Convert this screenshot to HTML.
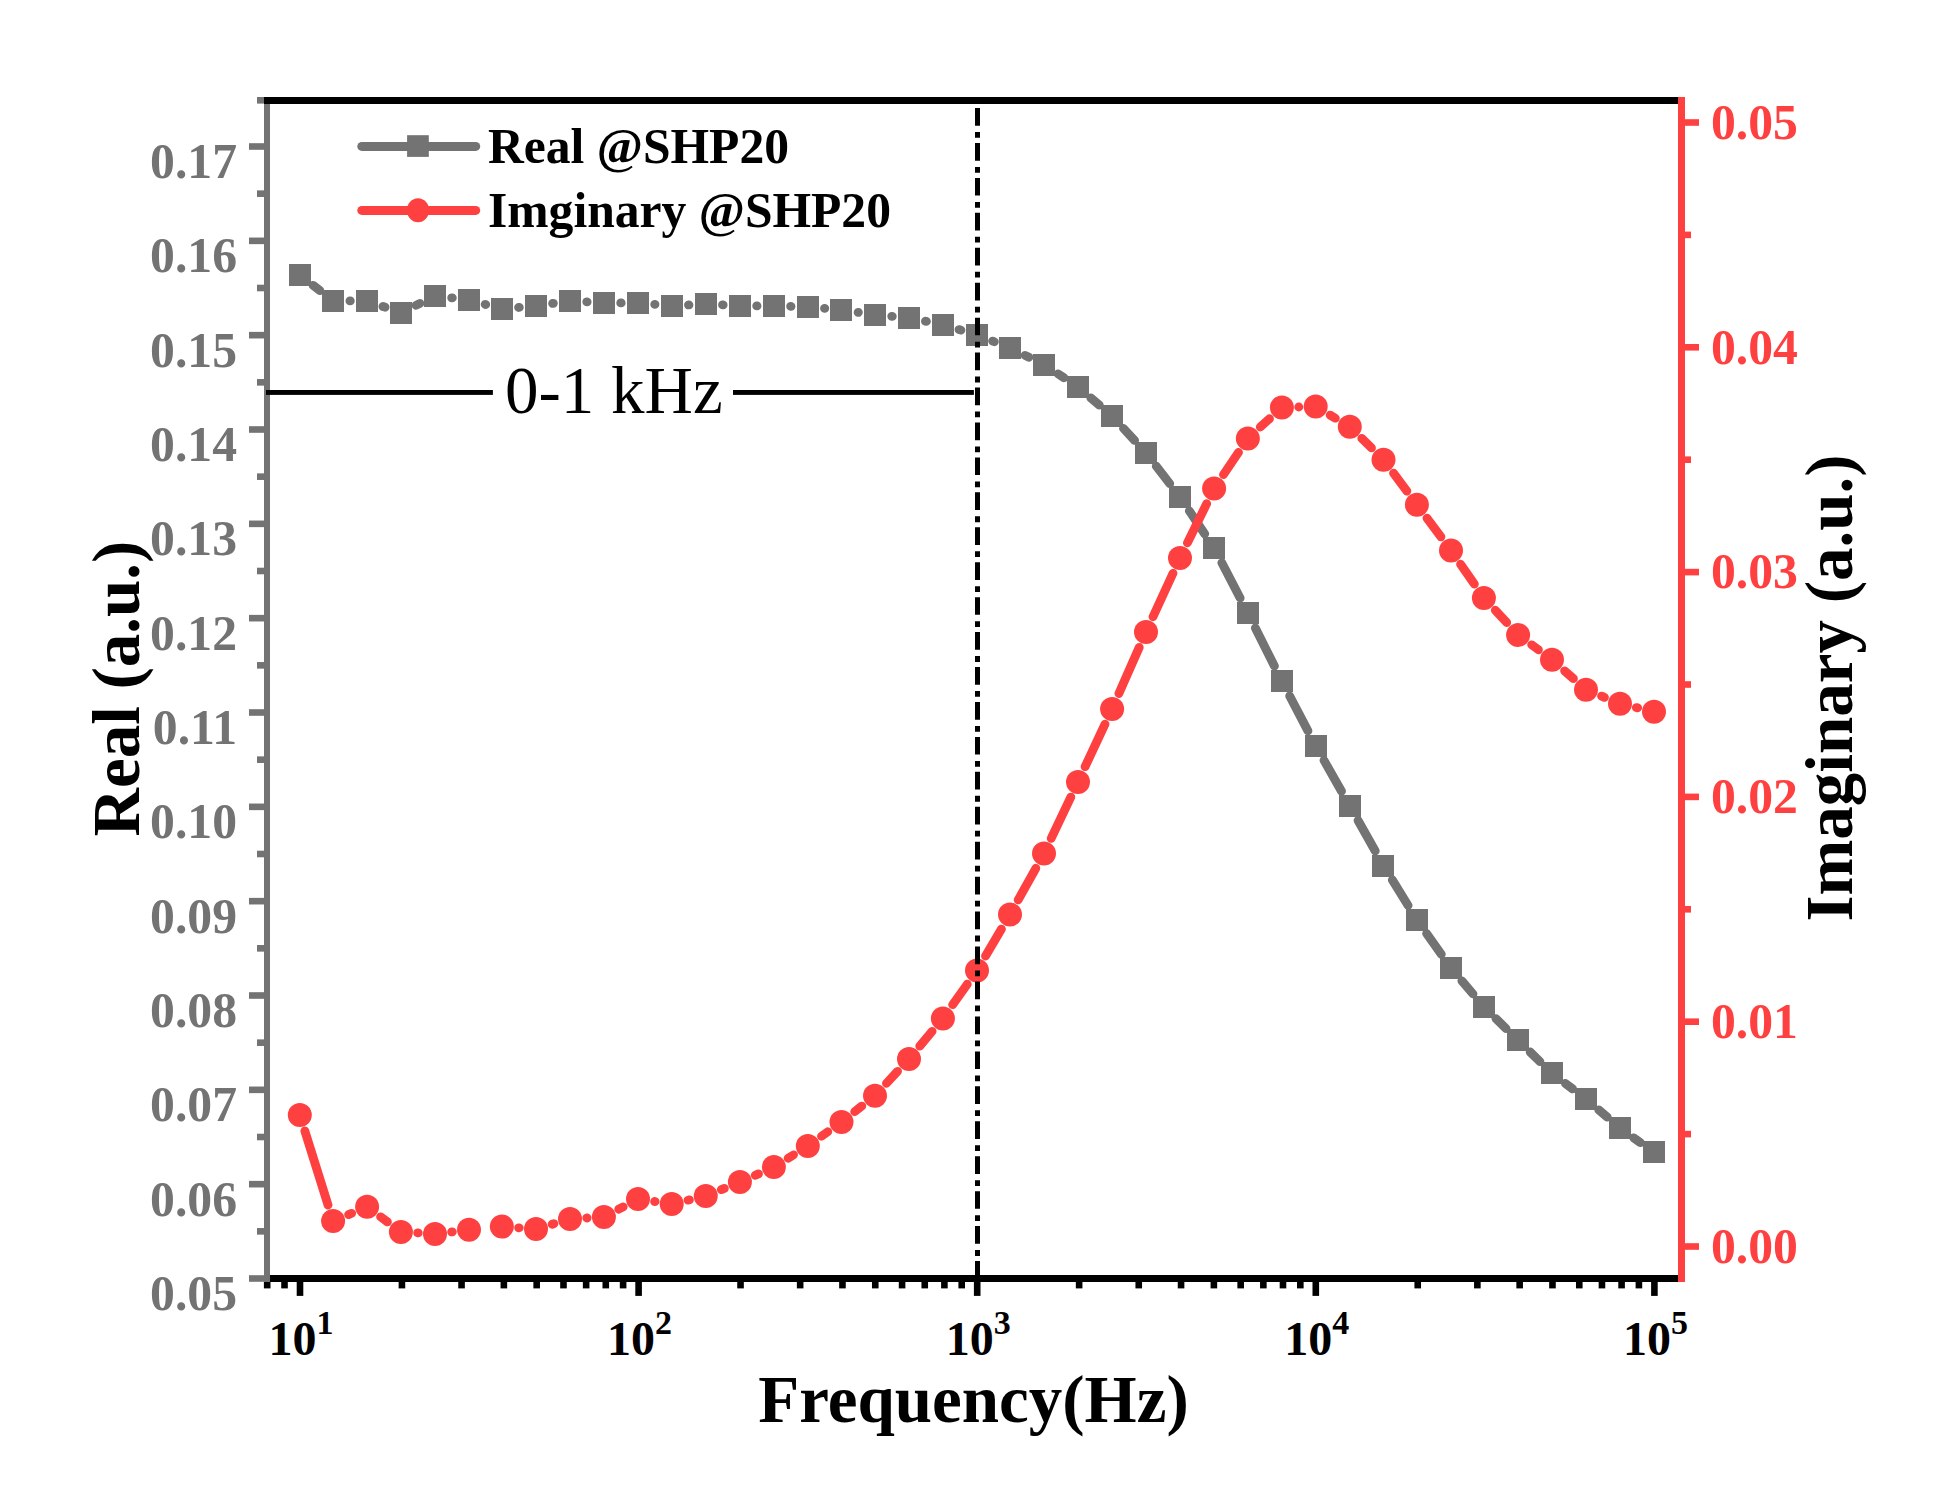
<!DOCTYPE html><html><head><meta charset="utf-8"><style>html,body{margin:0;padding:0;background:#fff;}svg{display:block;}text{font-family:"Liberation Serif","Times New Roman",serif;}</style></head><body>
<svg width="1945" height="1498" viewBox="0 0 1945 1498">
<rect width="1945" height="1498" fill="#fff"/>
<text x="505" y="413" font-size="67" fill="#000">0-1 kHz</text>
<rect x="264" y="1275" width="1414" height="7" fill="#000"/>
<rect x="296.70" y="1281.9" width="6.6" height="14" fill="#000"/>
<rect x="398.63" y="1281.9" width="6.6" height="6.5" fill="#000"/>
<rect x="458.25" y="1281.9" width="6.6" height="6.5" fill="#000"/>
<rect x="500.56" y="1281.9" width="6.6" height="6.5" fill="#000"/>
<rect x="533.37" y="1281.9" width="6.6" height="6.5" fill="#000"/>
<rect x="560.18" y="1281.9" width="6.6" height="6.5" fill="#000"/>
<rect x="582.85" y="1281.9" width="6.6" height="6.5" fill="#000"/>
<rect x="602.49" y="1281.9" width="6.6" height="6.5" fill="#000"/>
<rect x="619.81" y="1281.9" width="6.6" height="6.5" fill="#000"/>
<rect x="635.30" y="1281.9" width="6.6" height="14" fill="#000"/>
<rect x="737.23" y="1281.9" width="6.6" height="6.5" fill="#000"/>
<rect x="796.85" y="1281.9" width="6.6" height="6.5" fill="#000"/>
<rect x="839.16" y="1281.9" width="6.6" height="6.5" fill="#000"/>
<rect x="871.97" y="1281.9" width="6.6" height="6.5" fill="#000"/>
<rect x="898.78" y="1281.9" width="6.6" height="6.5" fill="#000"/>
<rect x="921.45" y="1281.9" width="6.6" height="6.5" fill="#000"/>
<rect x="941.09" y="1281.9" width="6.6" height="6.5" fill="#000"/>
<rect x="958.41" y="1281.9" width="6.6" height="6.5" fill="#000"/>
<rect x="973.90" y="1281.9" width="6.6" height="14" fill="#000"/>
<rect x="1075.83" y="1281.9" width="6.6" height="6.5" fill="#000"/>
<rect x="1135.45" y="1281.9" width="6.6" height="6.5" fill="#000"/>
<rect x="1177.76" y="1281.9" width="6.6" height="6.5" fill="#000"/>
<rect x="1210.57" y="1281.9" width="6.6" height="6.5" fill="#000"/>
<rect x="1237.38" y="1281.9" width="6.6" height="6.5" fill="#000"/>
<rect x="1260.05" y="1281.9" width="6.6" height="6.5" fill="#000"/>
<rect x="1279.69" y="1281.9" width="6.6" height="6.5" fill="#000"/>
<rect x="1297.01" y="1281.9" width="6.6" height="6.5" fill="#000"/>
<rect x="1312.50" y="1281.9" width="6.6" height="14" fill="#000"/>
<rect x="1414.43" y="1281.9" width="6.6" height="6.5" fill="#000"/>
<rect x="1474.05" y="1281.9" width="6.6" height="6.5" fill="#000"/>
<rect x="1516.36" y="1281.9" width="6.6" height="6.5" fill="#000"/>
<rect x="1549.17" y="1281.9" width="6.6" height="6.5" fill="#000"/>
<rect x="1575.98" y="1281.9" width="6.6" height="6.5" fill="#000"/>
<rect x="1598.65" y="1281.9" width="6.6" height="6.5" fill="#000"/>
<rect x="1618.29" y="1281.9" width="6.6" height="6.5" fill="#000"/>
<rect x="1635.61" y="1281.9" width="6.6" height="6.5" fill="#000"/>
<rect x="1651.10" y="1281.9" width="6.6" height="14" fill="#000"/>
<rect x="263.89" y="1281.9" width="6.6" height="6.5" fill="#000"/>
<rect x="281.21" y="1281.9" width="6.6" height="6.5" fill="#000"/>
<rect x="264" y="97" width="6" height="1185" fill="#737373"/>
<rect x="249" y="1275.20" width="15" height="6.6" fill="#737373"/>
<rect x="257" y="1228.03" width="7" height="6.6" fill="#737373"/>
<rect x="249" y="1180.87" width="15" height="6.6" fill="#737373"/>
<rect x="257" y="1133.70" width="7" height="6.6" fill="#737373"/>
<rect x="249" y="1086.53" width="15" height="6.6" fill="#737373"/>
<rect x="257" y="1039.37" width="7" height="6.6" fill="#737373"/>
<rect x="249" y="992.20" width="15" height="6.6" fill="#737373"/>
<rect x="257" y="945.03" width="7" height="6.6" fill="#737373"/>
<rect x="249" y="897.87" width="15" height="6.6" fill="#737373"/>
<rect x="257" y="850.70" width="7" height="6.6" fill="#737373"/>
<rect x="249" y="803.54" width="15" height="6.6" fill="#737373"/>
<rect x="257" y="756.37" width="7" height="6.6" fill="#737373"/>
<rect x="249" y="709.20" width="15" height="6.6" fill="#737373"/>
<rect x="257" y="662.04" width="7" height="6.6" fill="#737373"/>
<rect x="249" y="614.87" width="15" height="6.6" fill="#737373"/>
<rect x="257" y="567.70" width="7" height="6.6" fill="#737373"/>
<rect x="249" y="520.54" width="15" height="6.6" fill="#737373"/>
<rect x="257" y="473.37" width="7" height="6.6" fill="#737373"/>
<rect x="249" y="426.20" width="15" height="6.6" fill="#737373"/>
<rect x="257" y="379.04" width="7" height="6.6" fill="#737373"/>
<rect x="249" y="331.87" width="15" height="6.6" fill="#737373"/>
<rect x="257" y="284.70" width="7" height="6.6" fill="#737373"/>
<rect x="249" y="237.54" width="15" height="6.6" fill="#737373"/>
<rect x="257" y="190.37" width="7" height="6.6" fill="#737373"/>
<rect x="249" y="143.20" width="15" height="6.6" fill="#737373"/>
<rect x="257" y="97.00" width="7" height="6.6" fill="#737373"/>
<rect x="264" y="97" width="1414" height="7" fill="#000"/>
<rect x="1678" y="97" width="7" height="1185" fill="#FF4040"/>
<rect x="1685" y="1243.20" width="14" height="6.6" fill="#FF4040"/>
<rect x="1685" y="1130.80" width="6" height="6.6" fill="#FF4040"/>
<rect x="1685" y="1018.40" width="14" height="6.6" fill="#FF4040"/>
<rect x="1685" y="906.00" width="6" height="6.6" fill="#FF4040"/>
<rect x="1685" y="793.60" width="14" height="6.6" fill="#FF4040"/>
<rect x="1685" y="681.20" width="6" height="6.6" fill="#FF4040"/>
<rect x="1685" y="568.80" width="14" height="6.6" fill="#FF4040"/>
<rect x="1685" y="456.40" width="6" height="6.6" fill="#FF4040"/>
<rect x="1685" y="344.00" width="14" height="6.6" fill="#FF4040"/>
<rect x="1685" y="231.60" width="6" height="6.6" fill="#FF4040"/>
<rect x="1685" y="119.20" width="14" height="6.6" fill="#FF4040"/>
<text x="237" y="1310.1" font-size="49.7" font-weight="bold" fill="#737373" text-anchor="end">0.05</text>
<text x="237" y="1215.8" font-size="49.7" font-weight="bold" fill="#737373" text-anchor="end">0.06</text>
<text x="237" y="1121.4" font-size="49.7" font-weight="bold" fill="#737373" text-anchor="end">0.07</text>
<text x="237" y="1027.1" font-size="49.7" font-weight="bold" fill="#737373" text-anchor="end">0.08</text>
<text x="237" y="932.8" font-size="49.7" font-weight="bold" fill="#737373" text-anchor="end">0.09</text>
<text x="237" y="838.4" font-size="49.7" font-weight="bold" fill="#737373" text-anchor="end">0.10</text>
<text x="237" y="744.1" font-size="49.7" font-weight="bold" fill="#737373" text-anchor="end">0.11</text>
<text x="237" y="649.8" font-size="49.7" font-weight="bold" fill="#737373" text-anchor="end">0.12</text>
<text x="237" y="555.4" font-size="49.7" font-weight="bold" fill="#737373" text-anchor="end">0.13</text>
<text x="237" y="461.1" font-size="49.7" font-weight="bold" fill="#737373" text-anchor="end">0.14</text>
<text x="237" y="366.8" font-size="49.7" font-weight="bold" fill="#737373" text-anchor="end">0.15</text>
<text x="237" y="272.4" font-size="49.7" font-weight="bold" fill="#737373" text-anchor="end">0.16</text>
<text x="237" y="178.1" font-size="49.7" font-weight="bold" fill="#737373" text-anchor="end">0.17</text>
<text x="1711" y="1262.8" font-size="49.7" font-weight="bold" fill="#FF4040">0.00</text>
<text x="1711" y="1038.0" font-size="49.7" font-weight="bold" fill="#FF4040">0.01</text>
<text x="1711" y="813.2" font-size="49.7" font-weight="bold" fill="#FF4040">0.02</text>
<text x="1711" y="588.4" font-size="49.7" font-weight="bold" fill="#FF4040">0.03</text>
<text x="1711" y="363.6" font-size="49.7" font-weight="bold" fill="#FF4040">0.04</text>
<text x="1711" y="138.8" font-size="49.7" font-weight="bold" fill="#FF4040">0.05</text>
<text x="301.0" y="1354.8" font-size="48" font-weight="bold" fill="#000" text-anchor="middle">10<tspan dy="-21" font-size="34">1</tspan></text>
<text x="639.6" y="1354.8" font-size="48" font-weight="bold" fill="#000" text-anchor="middle">10<tspan dy="-21" font-size="34">2</tspan></text>
<text x="978.2" y="1354.8" font-size="48" font-weight="bold" fill="#000" text-anchor="middle">10<tspan dy="-21" font-size="34">3</tspan></text>
<text x="1316.8" y="1354.8" font-size="48" font-weight="bold" fill="#000" text-anchor="middle">10<tspan dy="-21" font-size="34">4</tspan></text>
<text x="1655.4" y="1354.8" font-size="48" font-weight="bold" fill="#000" text-anchor="middle">10<tspan dy="-21" font-size="34">5</tspan></text>
<text x="1" y="1" font-size="67" font-weight="bold" fill="#000" text-anchor="middle" transform="translate(138.4 689.5) rotate(-90)" dy="0">Real (a.u.)</text>
<text font-size="67" font-weight="bold" fill="#000" text-anchor="middle" transform="translate(1851.7 688) rotate(-90)">Imaginary (a.u.)</text>
<text x="973.5" y="1421.7" font-size="67" font-weight="bold" fill="#000" text-anchor="middle">Frequency(Hz)</text>
<path d="M313.06 285.31L319.84 290.59M349.90 300.90L350.30 300.90M382.95 306.48L385.05 307.22M415.95 305.34L419.95 303.36M451.69 297.81L452.31 297.89M485.16 304.38L485.69 304.52M518.57 307.48L519.28 307.42M552.63 303.40L553.37 303.30M586.77 301.89L587.13 301.91M620.70 302.90L621.20 302.90M654.73 304.39L654.97 304.41M688.47 304.91L688.98 304.89M722.52 304.88L723.13 304.92M756.70 305.90L757.05 305.90M790.64 306.39L791.01 306.41M824.53 308.39L824.77 308.41M858.12 312.38L858.38 312.42M891.74 316.33L892.26 316.37M925.45 321.20L926.45 321.40M959.01 329.57L960.89 330.13M992.63 341.06L994.37 341.74M1025.06 355.34L1028.94 357.26M1058.07 373.88L1063.93 377.72M1090.78 397.81L1099.32 405.09M1123.48 428.36L1134.62 440.44M1156.26 466.10L1169.74 483.60M1189.34 510.87L1204.76 533.93M1221.83 562.81L1240.12 598.09M1255.36 628.03L1274.39 666.07M1289.68 695.99L1307.92 730.91M1323.99 760.41L1341.51 791.29M1358.06 820.53L1375.24 850.97M1392.31 879.90L1408.09 905.50M1426.60 933.51L1441.30 954.29M1461.87 980.81L1473.03 993.99M1495.90 1018.56L1506.10 1028.54M1530.14 1052.02L1539.96 1061.58M1565.40 1083.43L1572.60 1088.87M1598.76 1109.92L1607.24 1117.18M1633.67 1137.87L1640.33 1142.63" stroke="#737373" stroke-width="8.8" stroke-linecap="round" fill="none"/>
<g fill="#737373"><rect x="289" y="264" width="22" height="22"/><rect x="322" y="290" width="22" height="22"/><rect x="356" y="290" width="22" height="22"/><rect x="390" y="302" width="22" height="22"/><rect x="424" y="285" width="22" height="22"/><rect x="458" y="289" width="22" height="22"/><rect x="491" y="298" width="22" height="22"/><rect x="525" y="295" width="22" height="22"/><rect x="559" y="290" width="22" height="22"/><rect x="593" y="292" width="22" height="22"/><rect x="627" y="292" width="22" height="22"/><rect x="661" y="295" width="22" height="22"/><rect x="695" y="293" width="22" height="22"/><rect x="729" y="295" width="22" height="22"/><rect x="763" y="295" width="22" height="22"/><rect x="797" y="296" width="22" height="22"/><rect x="830" y="299" width="22" height="22"/><rect x="864" y="304" width="22" height="22"/><rect x="898" y="307" width="22" height="22"/><rect x="932" y="314" width="22" height="22"/><rect x="966" y="324" width="22" height="22"/><rect x="999" y="337" width="22" height="22"/><rect x="1033" y="354" width="22" height="22"/><rect x="1067" y="376" width="22" height="22"/><rect x="1101" y="405" width="22" height="22"/><rect x="1135" y="442" width="22" height="22"/><rect x="1169" y="486" width="22" height="22"/><rect x="1203" y="537" width="22" height="22"/><rect x="1237" y="602" width="22" height="22"/><rect x="1271" y="670" width="22" height="22"/><rect x="1305" y="735" width="22" height="22"/><rect x="1339" y="795" width="22" height="22"/><rect x="1372" y="855" width="22" height="22"/><rect x="1406" y="909" width="22" height="22"/><rect x="1440" y="957" width="22" height="22"/><rect x="1473" y="996" width="22" height="22"/><rect x="1507" y="1029" width="22" height="22"/><rect x="1541" y="1062" width="22" height="22"/><rect x="1575" y="1088" width="22" height="22"/><rect x="1609" y="1117" width="22" height="22"/><rect x="1643" y="1141" width="22" height="22"/></g>
<path d="M304.83 1130.93L328.07 1205.07M348.59 1214.59L351.61 1213.31M380.59 1216.82L387.41 1221.88M417.67 1232.93L418.23 1232.97M451.67 1231.94L452.33 1231.86M518.61 1227.78L519.24 1227.82M552.10 1224.22L553.90 1223.68M586.78 1218.01L587.12 1217.99M618.74 1209.22L623.16 1206.88M654.62 1201.47L655.08 1201.53M688.05 1200.16L689.40 1199.84M721.31 1189.67L724.34 1188.43M755.27 1175.31L758.48 1173.89M788.12 1158.23L793.53 1154.87M821.48 1136.25L827.82 1131.75M854.71 1111.63L861.79 1106.07M886.42 1083.38L897.58 1071.32M919.77 1046.10L932.13 1031.30M952.64 1004.71L967.26 984.19M985.54 956.03L1001.46 929.07M1018.18 899.93L1035.82 868.27M1051.20 838.42L1070.80 797.08M1085.11 766.68L1104.99 724.12M1118.88 693.53L1139.22 647.37M1153.01 616.73L1172.99 573.27M1187.41 542.92L1206.69 503.68M1223.47 474.66L1238.48 452.34M1260.27 427.09L1269.48 418.71M1298.70 407.00L1298.90 407.00M1330.17 415.13L1335.33 418.17M1361.80 438.45L1371.50 447.95M1393.51 473.19L1406.89 491.21M1426.95 518.16L1440.95 536.94M1460.57 564.21L1474.33 584.09M1495.30 610.24L1506.70 622.56M1531.66 644.82L1538.44 649.78M1564.58 670.84L1573.42 678.66M1601.55 696.16L1604.45 697.34M1636.35 707.55L1637.65 707.85" stroke="#FF4040" stroke-width="8.8" stroke-linecap="round" fill="none"/>
<g fill="#FF4040"><circle cx="299.80" cy="1114.90" r="12"/><circle cx="333.10" cy="1221.10" r="12"/><circle cx="367.10" cy="1206.80" r="12"/><circle cx="400.90" cy="1231.90" r="12"/><circle cx="435.00" cy="1234.00" r="12"/><circle cx="469.00" cy="1229.80" r="12"/><circle cx="501.85" cy="1226.60" r="12"/><circle cx="536.00" cy="1229.00" r="12"/><circle cx="570.00" cy="1218.90" r="12"/><circle cx="603.90" cy="1217.10" r="12"/><circle cx="638.00" cy="1199.00" r="12"/><circle cx="671.70" cy="1204.00" r="12"/><circle cx="705.75" cy="1196.00" r="12"/><circle cx="739.90" cy="1182.10" r="12"/><circle cx="773.85" cy="1167.10" r="12"/><circle cx="807.80" cy="1146.00" r="12"/><circle cx="841.50" cy="1122.00" r="12"/><circle cx="875.00" cy="1095.70" r="12"/><circle cx="909.00" cy="1059.00" r="12"/><circle cx="942.90" cy="1018.40" r="12"/><circle cx="977.00" cy="970.50" r="12"/><circle cx="1010.00" cy="914.60" r="12"/><circle cx="1044.00" cy="853.60" r="12"/><circle cx="1078.00" cy="781.90" r="12"/><circle cx="1112.10" cy="708.90" r="12"/><circle cx="1146.00" cy="632.00" r="12"/><circle cx="1180.00" cy="558.00" r="12"/><circle cx="1214.10" cy="488.60" r="12"/><circle cx="1247.85" cy="438.40" r="12"/><circle cx="1281.90" cy="407.40" r="12"/><circle cx="1315.70" cy="406.60" r="12"/><circle cx="1349.80" cy="426.70" r="12"/><circle cx="1383.50" cy="459.70" r="12"/><circle cx="1416.90" cy="504.70" r="12"/><circle cx="1451.00" cy="550.40" r="12"/><circle cx="1483.90" cy="597.90" r="12"/><circle cx="1518.10" cy="634.90" r="12"/><circle cx="1552.00" cy="659.70" r="12"/><circle cx="1586.00" cy="689.80" r="12"/><circle cx="1620.00" cy="703.70" r="12"/><circle cx="1654.00" cy="711.70" r="12"/></g>
<line x1="977.5" y1="108" x2="977.5" y2="1276" stroke="#000" stroke-width="5" stroke-dasharray="17.7 6.3 5.8 5.14"/>
<rect x="266" y="390" width="226.9" height="4.9" fill="#000"/>
<rect x="733" y="390" width="240.9" height="4.9" fill="#000"/>
<line x1="361.8" y1="146.4" x2="475.7" y2="146.4" stroke="#737373" stroke-width="9" stroke-linecap="round"/>
<rect x="407.1" y="135.2" width="21.7" height="21.7" fill="#737373"/>
<line x1="361.8" y1="210.4" x2="475.7" y2="210.4" stroke="#FF4040" stroke-width="9" stroke-linecap="round"/>
<ellipse cx="418" cy="210.2" rx="11.1" ry="12" fill="#FF4040"/>
<text x="488" y="163.4" font-size="49.6" font-weight="bold" fill="#000">Real @SHP20</text>
<text x="488" y="227.3" font-size="49.6" font-weight="bold" fill="#000">Imginary @SHP20</text>
</svg></body></html>
